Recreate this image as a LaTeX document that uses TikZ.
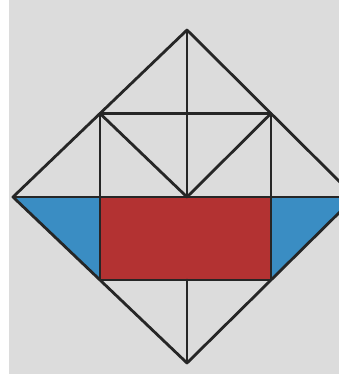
\documentclass[tikz,border=0pt]{standalone}
\usepackage{tikz}
\usetikzlibrary{calc}
\definecolor{PaperGray}{HTML}{DCDCDC}
\definecolor{InkBlack}{HTML}{262626}
\definecolor{FlagRed}{HTML}{B33232}
\definecolor{FlagBlue}{HTML}{3A8DC3}
\begin{document}
\begin{tikzpicture}[
  x=1pt, y=-1pt,
  edge/.style={draw=InkBlack, line width=2.8pt, line join=round, line cap=round},
  redpart/.style={fill=FlagRed},
  bluepart/.style={fill=FlagBlue}
]
  \useasboundingbox (0,0) rectangle (339,374);
  \fill[white] (0,0) rectangle (339,374);
  \fill[PaperGray] (9,0) rectangle (339,374);
  \clip (0,0) rectangle (339,374);
  % corners of the big square
  \coordinate (T) at (187,30);
  \coordinate (B) at (187,363);
  \coordinate (L) at (13,197);
  \coordinate (R) at (355,197);
  \coordinate (M) at (187,197);
  % midpoints of its sides
  \coordinate (lt) at ($(L)!0.5!(T)$);
  \coordinate (rt) at ($(R)!0.5!(T)$);
  \coordinate (lb) at ($(L)!0.5!(B)$);
  \coordinate (rb) at ($(R)!0.5!(B)$);
  \coordinate (lm) at (lb |- M);
  \coordinate (rm) at (rb |- M);
  \coordinate (mb) at (M |- lb);
  % coloured parts
  \path[bluepart] (L) -- (lm) -- (lb) -- cycle;
  \path[bluepart] (R) -- (rm) -- (rb) -- cycle;
  \path[redpart] (lm) rectangle (rb);
  % lines
  \draw[edge] (T) -- (R) -- (B) -- (L) -- cycle;
  \draw[edge] (T) -- (M);
  \draw[edge] (mb) -- (B);
  \draw[edge] (L) -- (R);
  \draw[edge] (lt) -- (rt);
  \draw[edge] (lt) -- (lb) -- (rb) -- (rt);
  \draw[edge] (lt) -- (M) -- (rt);
\end{tikzpicture}
\end{document}
